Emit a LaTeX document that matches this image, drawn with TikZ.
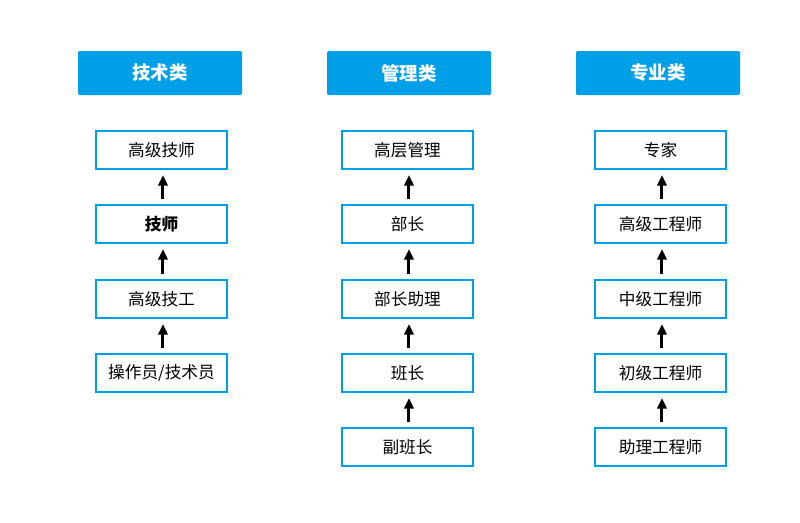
\documentclass[tikz,border=0pt]{standalone}
\usepackage{fontspec}
\setmainfont{Noto Sans CJK SC}
\usetikzlibrary{arrows.meta}
\definecolor{headblue}{HTML}{00A0E9}
\begin{document}
\begin{tikzpicture}[x=0.75pt,y=-0.75pt]
        \useasboundingbox (0,0) rectangle (800,522);
        \begin{scope}[every node/.style={fill=headblue,text=white,font=\fontsize{13.8}{16}\selectfont\bfseries,minimum width=123pt,minimum height=33pt,rounded corners=1pt,inner sep=0pt}]
            % Headers
            \node (h1) at (160, 73) {技术类};
            \node (h2) at (409, 73) {管理类};
            \node (h3) at (658, 73) {专业类};
        \end{scope}
        \begin{scope}[every node/.style={draw=headblue,line width=1.5pt,fill=white,font=\fontsize{12.5}{14}\selectfont,minimum width=98.5pt,minimum height=28.5pt,inner sep=0pt}]
            % Column 1
            \node (t1) at (161.5, 150) {高级技师};
            \node (t2) at (161.5, 224) {\bfseries 技师};
            \node (t3) at (161.5, 299) {高级技工};
            \node (t4) at (161.5, 373) {操作员/技术员};

            % Column 2
            \node (m1) at (407.5, 150) {高层管理};
            \node (m2) at (407.5, 224) {部长};
            \node (m3) at (407.5, 299) {部长助理};
            \node (m4) at (407.5, 373) {班长};
            \node (m5) at (407.5, 447) {副班长};

            % Column 3
            \node (p1) at (660.5, 150) {专家};
            \node (p2) at (660.5, 224) {高级工程师};
            \node (p3) at (660.5, 299) {中级工程师};
            \node (p4) at (660.5, 373) {初级工程师};
            \node (p5) at (660.5, 447) {助理工程师};
        \end{scope}

        \begin{scope}[every path/.style={line width=2.25pt,-{Triangle[width=7pt,length=8pt]},shorten <=3.75pt,shorten >=3.75pt}]
            \path ([xshift=1.1pt]t2.north) edge ([xshift=1.1pt]t1.south);
            \path ([xshift=1.1pt]t3.north) edge ([xshift=1.1pt]t2.south);
            \path ([xshift=1.1pt]t4.north) edge ([xshift=1.1pt]t3.south);

            \path ([xshift=1.1pt]m2.north) edge ([xshift=1.1pt]m1.south);
            \path ([xshift=1.1pt]m3.north) edge ([xshift=1.1pt]m2.south);
            \path ([xshift=1.1pt]m4.north) edge ([xshift=1.1pt]m3.south);
            \path ([xshift=1.1pt]m5.north) edge ([xshift=1.1pt]m4.south);

            \path ([xshift=1.1pt]p2.north) edge ([xshift=1.1pt]p1.south);
            \path ([xshift=1.1pt]p3.north) edge ([xshift=1.1pt]p2.south);
            \path ([xshift=1.1pt]p4.north) edge ([xshift=1.1pt]p3.south);
            \path ([xshift=1.1pt]p5.north) edge ([xshift=1.1pt]p4.south);
        \end{scope}
    \end{tikzpicture}
\end{document}
